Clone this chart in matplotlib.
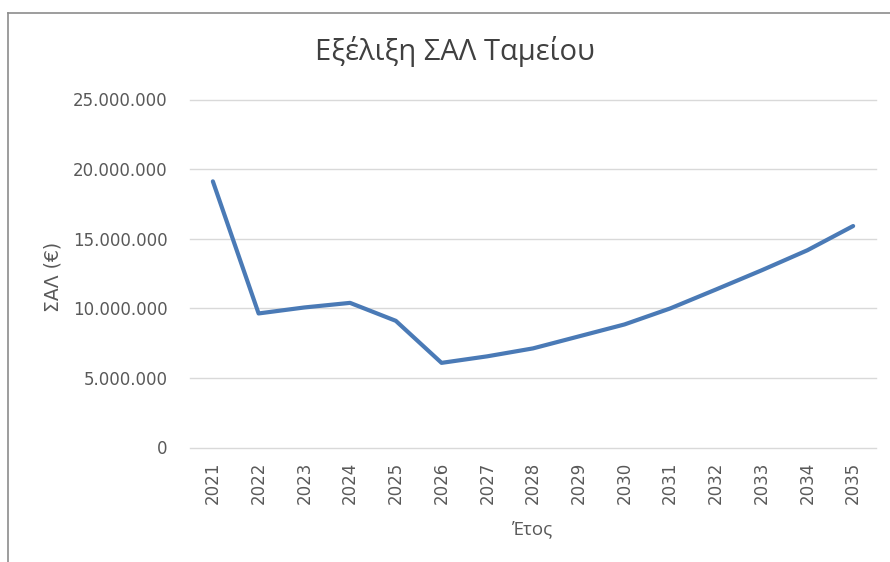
import matplotlib
matplotlib.use("Agg")
import matplotlib.pyplot as plt
from matplotlib.lines import Line2D
from matplotlib.ticker import FuncFormatter, MultipleLocator

# data
years = ["2021", "2022", "2023", "2024", "2025", "2026", "2027", "2028",
         "2029", "2030", "2031", "2032", "2033", "2034", "2035"]
sal = [19.12e6, 9.63e6, 10.06e6, 10.39e6, 9.10e6, 6.08e6, 6.55e6, 7.12e6,
       7.98e6, 8.84e6, 9.99e6, 11.35e6, 12.73e6, 14.17e6, 15.91e6]

LINE, GRID, TXT, TITLE, FRAME = "#4a7ab6", "#d9d9d9", "#595959", "#404040", "#8c8c8c"

fig = plt.figure(figsize=(8.9, 5.62), dpi=100)
fig.patch.set_facecolor("white")
ax = fig.add_axes([190/890, 1-447.5/562, (876-190)/890, (447.5-99.5)/562])

x = list(range(len(years)))
ax.plot(x, sal, color=LINE, lw=3.0, solid_capstyle="round", solid_joinstyle="round", zorder=3)

ax.set_xlim(-0.5, len(years)-0.5)
ax.set_ylim(0, 25e6)
ax.yaxis.set_major_locator(MultipleLocator(5e6))
ax.yaxis.set_major_formatter(FuncFormatter(lambda v, _: f"{v:,.0f}".replace(",", ".")))
ax.set_xticks(x, years, rotation=90)
ax.grid(axis="y", color=GRID, lw=1.0)
for gl in ax.get_ygridlines():
    gl.set_clip_on(False)
ax.set_axisbelow(True)
for s in ax.spines.values():
    s.set_visible(False)
ax.tick_params(length=0, colors=TXT, labelsize=12)
ax.tick_params(axis="y", pad=16)
ax.tick_params(axis="x", pad=10)

ax.set_ylabel("ΣΑΛ (€)", color=TXT, fontsize=13.5)
ax.yaxis.set_label_coords(-0.186, 0.49)
ax.set_xlabel("Έτος", color=TXT, fontsize=13.5, family="Open Sans")
ax.xaxis.set_label_coords(0.5, -0.21)

fig.text(455/890, 1-60/562, "Εξέλιξη ΣΑΛ Ταμείου", ha="center", va="baseline",
         fontsize=21, color=TITLE, family="Open Sans")

# outer chart frame (only left and top edges are in view)
fig.add_artist(Line2D([7.5/890, 7.5/890], [0, 1-12.7/562], transform=fig.transFigure, color=FRAME, lw=1.2))
fig.add_artist(Line2D([7.5/890, 1], [1-12.7/562, 1-12.7/562], transform=fig.transFigure, color=FRAME, lw=1.2))

fig.savefig("out.png", dpi=100, facecolor="white")
